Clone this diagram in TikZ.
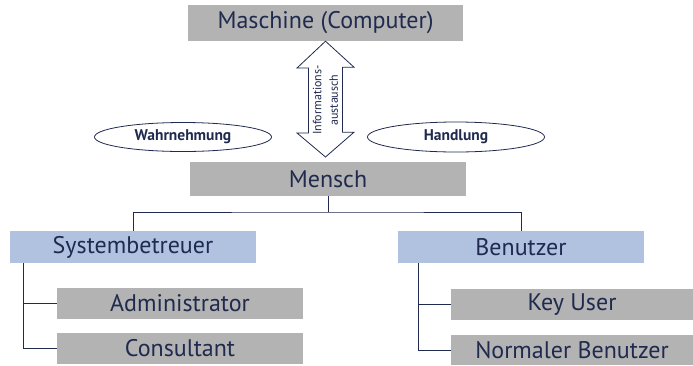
\documentclass[tikz,border=0pt]{standalone}
\usepackage{fontspec}
\setmainfont{PT Sans}
\usepackage{xcolor}
\usepackage{tikz}
\usetikzlibrary{calc}
\usetikzlibrary{shapes.geometric}

\definecolor{boxgray}{HTML}{B3B3B3}
\definecolor{boxblue}{HTML}{B1C2E1}
\definecolor{ink}{HTML}{1F2A4E}

\begin{document}
\begin{tikzpicture}[x=1pt,y=-1pt,
  box/.style={fill=boxgray,text=ink,inner sep=0pt,font=\fontsize{24}{28}\selectfont},
  rolebox/.style={box,fill=boxblue},
  oval/.style={draw=ink,ellipse,line width=0.8pt,text=ink,inner sep=0pt,font=\bfseries\fontsize{15.5}{18}\selectfont},
  tree/.style={draw=ink,line width=0.9pt}]
\useasboundingbox (0,0) rectangle (693,365);

% Maschine und Mensch
\node[box,minimum width=275pt,minimum height=36pt] (masch) at (325.5,23) {Maschine (Computer)};
\node[box,minimum width=276pt,minimum height=34pt] (mensch) at (328,179) {Mensch};

% Informationsaustausch
\draw[ink,line width=0.8pt,fill=white] (masch.south) -- ++(28.5,26) -- ++(-11.5,0) -- ++(0,65)
  -- ++(11.5,0) -- (325.5,157) -- ++(-28.5,-24) -- ++(11.5,0) -- ++(0,-65) -- ++(-11.5,0) -- cycle;
\node[text=ink,rotate=90,align=center,font=\fontsize{12}{16.5}\selectfont] (info) at (325.5,100) {Informations-\\austausch};

\node[oval,minimum width=177pt,minimum height=29pt] (wahr) at (183,137) {Wahrnehmung};
\node[oval,minimum width=177pt,minimum height=30pt] (hand) at (456,137) {Handlung};

% Rollen
\node[rolebox,minimum width=246pt,minimum height=32pt] (sys) at (133,247) {Systembetreuer};
\node[rolebox,minimum width=246pt,minimum height=32pt] (ben) at (521,247) {Benutzer};

\node[box,minimum width=246pt,minimum height=31pt] (admin) at (180,303.5) {Administrator};
\node[box,minimum width=246pt,minimum height=31pt] (cons) at (180,348.5) {Consultant};
\node[box,minimum width=242pt,minimum height=31pt] (key) at (572,304.5) {Key User};
\node[box,minimum width=242pt,minimum height=30pt] (norm) at (572,350) {Normaler Benutzer};

% Verbindungen
\coordinate (bar) at (328,212);
\draw[tree] (mensch.south) -- (bar);
\draw[tree] (sys.north) |- (bar) -| (ben.north);
\draw[tree] ([xshift=-110pt]sys.south) |- (admin.west);
\draw[tree] ([xshift=-110pt]sys.south) |- (cons.west);
\draw[tree] ([xshift=-103pt]ben.south) |- (key.west);
\draw[tree] ([xshift=-103pt]ben.south) |- (norm.west);
\end{tikzpicture}
\end{document}
